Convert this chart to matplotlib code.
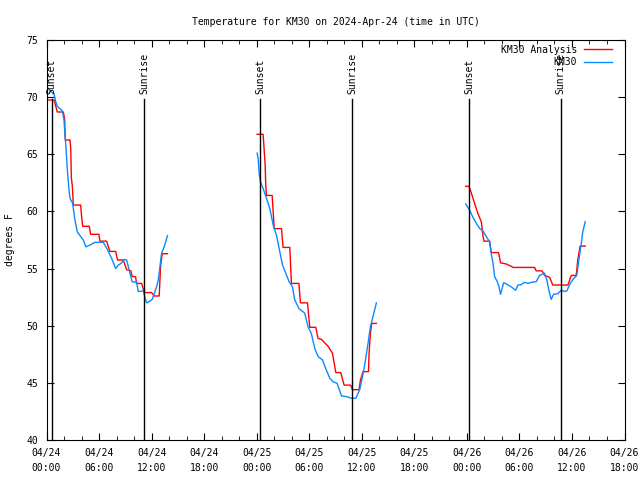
import numpy as np
import matplotlib
matplotlib.use('Agg')
import matplotlib.pyplot as plt
import matplotlib.dates as mdates

# hours after 2024-04-24 00:00 UTC
obs_h = [0.17, 0.48, 0.86, 1.05, 1.24, 1.8, 2.0, 2.1, 2.22, 2.38, 2.57, 2.68, 2.99, 3.25, 3.52,
         3.82, 4.2, 4.5, 4.96, 5.53, 6.48, 6.87, 7.43, 7.9, 8.2, 8.5, 8.88, 9.15, 9.34, 9.79,
         10.29, 10.48, 11.05, 11.24, 11.43, 11.7, 12.07, 12.3, 12.57, 12.76, 13.14, 13.44, 13.82,
         None,
         24.05, 24.17, 24.28, 24.44, 24.74, 25.12, 25.5, 25.88, 26.26, 26.64, 26.95, 27.32, 27.7,
         28.09, 28.35, 28.84, 29.49, 29.87, 30.25, 30.63, 31.01, 31.51, 31.97, 32.35, 32.72, 33.18,
         33.68, 34.25, 34.82, 35.31, 35.77, 36.07, 36.34, 36.71, 36.99, 37.28, 37.67,
         None,
         47.86, 48.32, 48.69, 49.08, 49.46, 49.84, 50.22, 50.6, 50.79, 50.98, 51.17, 51.48, 51.66,
         51.85, 52.2, 52.5, 53.07, 53.56, 53.83, 54.21, 54.59, 54.97, 55.35, 55.92, 56.3, 56.87,
         57.14, 57.36, 57.64, 57.9, 58.39, 58.77, 59.15, 59.41, 59.8, 60.17, 60.55, 60.78, 61.06,
         61.24, 61.51]
obs_t = [70.8, 70.5, 70.3, 69.6, 69.2, 68.8, 68.0, 66.8, 65.7, 63.6, 61.9, 61.15, 60.7, 59.25, 58.2,
         57.9, 57.5, 56.9, 57.06, 57.3, 57.3, 56.8, 55.9, 55.0, 55.3, 55.45, 55.8, 55.75, 55.2, 53.85,
         53.8, 53.0, 53.04, 52.5, 52.0, 52.1, 52.3, 52.8, 53.4, 54.0, 56.3, 56.9, 57.9,
         None,
         65.1, 64.65, 63.3, 62.6, 62.0, 61.15, 60.27, 58.8, 57.9, 56.5, 55.3, 54.6, 53.85,
         53.4, 52.25, 51.5, 51.1, 49.9, 49.3, 48.0, 47.3, 47.0, 46.1, 45.4, 45.1, 44.96,
         43.85, 43.8, 43.65, 43.65, 44.4, 45.5, 46.56, 48.46, 49.9, 50.8, 52.0,
         None,
         60.65, 60.1, 59.5, 58.96, 58.5, 58.3, 57.8, 57.35, 56.3, 55.5, 54.3, 53.85, 53.4,
         52.75, 53.76, 53.65, 53.4, 53.1, 53.56, 53.6, 53.8, 53.7, 53.8, 53.85, 54.4, 54.6,
         54.0, 53.1, 52.3, 52.75, 52.8, 53.1, 53.0, 53.04, 53.7, 54.1, 54.4, 55.75, 57.2,
         58.2, 59.1]

ana_h = [0.17, 0.86, 1.24, 1.92, 2.07, 2.15, 2.68, 2.76, 2.83, 2.95, 3.06, 3.9, 4.02, 4.13, 4.88,
         5.04, 5.99, 6.1, 6.87, 7.24, 7.9, 8.12, 8.77, 9.15, 9.64, 9.79, 10.17, 10.29, 10.86,
         11.16, 12.0, 12.3, 12.87, 13.03, 13.21, 13.82,
         None,
         24.05, 24.74, 24.82, 24.97, 25.04, 25.12, 25.76, 26.0, 26.83, 27.02, 27.78, 27.97, 28.81,
         29.0, 29.8, 30.06, 30.75, 31.0, 31.4, 32.15, 32.65, 33.03, 33.6, 33.98, 34.74, 34.93,
         35.69, 35.85, 36.15, 36.76, 36.83, 36.99, 37.14, 37.67,
         None,
         47.86, 48.24, 48.51, 48.89, 49.27, 49.65, 49.84, 49.95, 50.6, 50.79, 51.62, 51.85, 52.5,
         53.07, 53.26, 55.73, 55.92, 56.6, 56.87, 57.44, 57.82, 59.53, 59.92, 60.49, 60.67, 60.94,
         61.51]
ana_t = [69.75, 69.75, 68.7, 68.7, 68.1, 66.25, 66.25, 65.5, 63.0, 62.2, 60.56, 60.56, 59.5, 58.7, 58.7,
         58.0, 58.0, 57.4, 57.4, 56.5, 56.5, 55.75, 55.75, 54.9, 54.8, 54.3, 54.3, 53.7, 53.7,
         52.9, 52.9, 52.6, 52.6, 55.3, 56.3, 56.3,
         None,
         66.75, 66.75, 65.8, 64.1, 62.3, 61.4, 61.4, 58.5, 58.5, 56.85, 56.85, 53.7, 53.7,
         52.0, 52.0, 49.86, 49.86, 48.9, 48.8, 48.2, 47.6, 45.9, 45.9, 44.8, 44.8, 44.4,
         44.4, 45.25, 45.98, 45.98, 47.6, 49.3, 50.2, 50.2,
         None,
         62.2, 62.2, 61.6, 60.7, 59.8, 59.1, 57.9, 57.4, 57.4, 56.4, 56.4, 55.5, 55.4,
         55.2, 55.1, 55.1, 54.8, 54.8, 54.4, 54.24, 53.56, 53.56, 54.4, 54.4, 55.75, 56.97,
         56.97]

sun_h = [0.59, 11.16, 24.44, 34.89, 48.24, 58.7]
sun_lbl = ['Sunset', 'Sunrise', 'Sunset', 'Sunrise', 'Sunset', 'Sunrise']

base = np.datetime64('2024-04-24T00:00')


def to_time(hours):
    out = []
    for h in hours:
        if h is None:
            out.append(np.datetime64('NaT'))
        else:
            out.append(base + np.timedelta64(int(round(h * 60)), 'm'))
    return np.array(out, dtype='datetime64[m]')


def to_val(vals):
    return np.array([np.nan if v is None else v for v in vals], dtype=float)


plt.rcParams['font.family'] = 'DejaVu Sans Mono'
plt.rcParams['font.size'] = 7

fig = plt.figure(figsize=(6.4, 4.8), dpi=100)
ax = fig.add_axes([46.5 / 640, 40 / 480, 578 / 640, 400 / 480])

ax.plot(to_time(ana_h), to_val(ana_t), color='#ff0000', lw=1.0, label='KM30 Analysis')
ax.plot(to_time(obs_h), to_val(obs_t), color='#0a8aff', lw=1.0, label='KM30')

for h, lbl in zip(sun_h, sun_lbl):
    t = to_time([h])[0]
    ax.plot([t, t], [40, 69.8], color='black', lw=1.0)
    ax.text(t, 70.3, lbl, rotation=90, ha='center', va='bottom', fontsize=7)

ax.set_xlim(base, base + np.timedelta64(66, 'h'))
ax.set_ylim(40, 75)
ax.set_yticks([40, 45, 50, 55, 60, 65, 70, 75])

ax.xaxis.set_major_locator(mdates.HourLocator(byhour=[0, 6, 12, 18]))
ax.xaxis.set_minor_locator(mdates.HourLocator(interval=2))
ax.xaxis.set_major_formatter(mdates.DateFormatter('%m/%d\n%H:%M'))

ax.tick_params(which='both', direction='in', top=True, right=True)
ax.tick_params(which='major', length=5, pad=6)
ax.tick_params(which='minor', length=3)
ax.tick_params(axis='y', pad=6)
for lab in ax.get_xticklabels():
    lab.set_linespacing(1.6)

ax.set_title('Temperature for KM30 on 2024-Apr-24 (time in UTC)', fontsize=7, pad=11)
ax.set_ylabel('degrees F', fontsize=7, labelpad=8)

ax.legend(loc='upper right', bbox_to_anchor=(0.9853, 0.9975), frameon=False,
          markerfirst=False, handlelength=2.9, borderaxespad=0.0, labelspacing=0.25,
          handletextpad=0.7, fontsize=7)

fig.savefig('out.png', dpi=100)
